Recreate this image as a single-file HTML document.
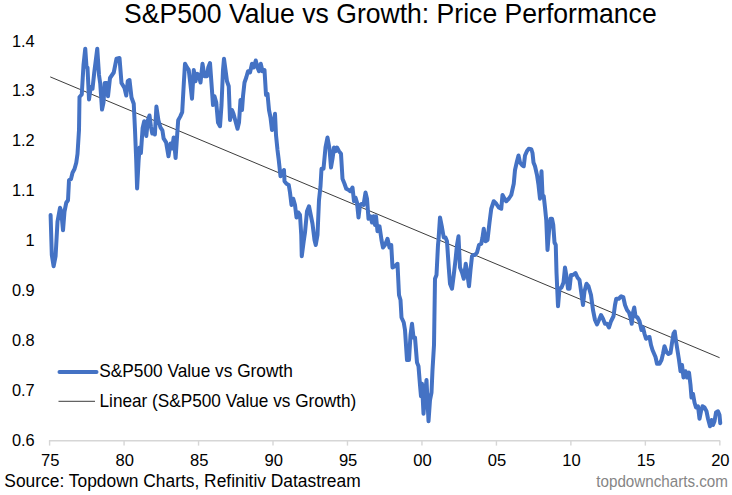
<!DOCTYPE html>
<html><head><meta charset="utf-8">
<style>
html,body{margin:0;padding:0;background:#fff;}
body{width:732px;height:495px;overflow:hidden;position:relative;font-family:"Liberation Sans",sans-serif;}
svg{position:absolute;left:0;top:0;}
text{font-family:"Liberation Sans",sans-serif;fill:#000;}
</style></head><body>
<svg width="732" height="495" viewBox="0 0 732 495">
<rect width="732" height="495" fill="#fff"/>
<g stroke="#d6d6d6" stroke-width="1.4" fill="none">
<line x1="48.9" y1="440.7" x2="720.2" y2="440.7"/>
<line x1="49.60" y1="440.7" x2="49.60" y2="445.6"/><line x1="124.07" y1="440.7" x2="124.07" y2="445.6"/><line x1="198.54" y1="440.7" x2="198.54" y2="445.6"/><line x1="273.01" y1="440.7" x2="273.01" y2="445.6"/><line x1="347.48" y1="440.7" x2="347.48" y2="445.6"/><line x1="421.95" y1="440.7" x2="421.95" y2="445.6"/><line x1="496.42" y1="440.7" x2="496.42" y2="445.6"/><line x1="570.89" y1="440.7" x2="570.89" y2="445.6"/><line x1="645.36" y1="440.7" x2="645.36" y2="445.6"/><line x1="719.83" y1="440.7" x2="719.83" y2="445.6"/>
</g>
<line x1="50.25" y1="76.9" x2="719.6" y2="357.7" stroke="#262626" stroke-width="0.9"/>
<path d="M50.6,215 L51.8,255 L53.6,266.3 L55.6,256 L57.5,221.5 L60,207.75 L61.25,211.5 L63,230.25 L64.5,211.5 L66.25,202.75 L68,200.25 L69,180.25 L71,179 L72.5,172.75 L74.5,169 L76.25,162.75 L77.5,154 L79,130 L79.5,97 L81.75,94.5 L83.5,65 L85.25,48.75 L86.5,67 L87.5,67.5 L89,99.5 L90.75,87 L92.5,88.75 L94.25,72.5 L97.25,48.75 L99,75 L100.25,83.75 L102,109.5 L103.5,102.5 L104.75,83 L106.75,83 L108,96.25 L110,78 L113.75,72.5 L116.5,58.75 L119.5,58 L121.5,83 L124.5,88 L126.25,95.5 L127.75,81.25 L129.5,80 L131.5,97.5 L133.75,103.75 L135,130 L136.2,160 L137.1,188.5 L138.6,160.6 L139.6,147.5 L140.9,153 L142.6,128.3 L144.2,121.2 L146.3,136 L147.9,120.2 L149.5,115.5 L150.9,126.3 L152.3,133.5 L153.9,130.3 L154.9,134.5 L156.4,106.5 L158.4,120.2 L160.4,127.3 L162.4,130.3 L163.6,138.4 L166.1,142.4 L168.5,156.3 L170.5,143.4 L172.1,148.5 L173.7,137.4 L175.6,158 L177.2,134.3 L178.2,120.2 L180.2,116.6 L182.2,112.1 L184,80 L185,63.75 L187,67.5 L188.75,70 L190.5,85 L192,98.75 L193.75,70 L195.5,81.25 L197,73.75 L198.75,75 L200.5,82.5 L202.5,63.75 L204.5,76.25 L207,76.25 L208.25,67.5 L210,63 L211.5,83.75 L213,105 L214.5,96.25 L216.25,102.5 L218,122.5 L220,126.25 L221.5,105 L223,70 L224,58.75 L225.5,70 L227,81.25 L228.75,86.25 L230,120 L232,110 L233.5,113.75 L235.5,121.25 L237.5,128.75 L239,122.5 L240.5,100 L242,110 L243,96.25 L244.5,82.5 L246.25,77.5 L248,71.25 L250,72.5 L252,63.75 L253.75,67.5 L255.75,60.5 L257.5,67.5 L259,71.25 L260.75,63.75 L262.5,71.25 L264.5,70 L266,95 L267.5,93.75 L269,110 L270.5,117.5 L272,130 L273.25,127.5 L275,113.75 L276,135 L277.5,150 L278.75,160 L280.5,176.25 L282.5,172.5 L284,170 L284.5,181.25 L286.5,183.75 L288.75,185 L290,192.5 L291.5,205 L293.25,198.75 L295,205 L296.5,217.5 L298.25,212.5 L300,215 L301.25,235 L301.75,256.25 L303.75,241 L305,232.5 L307,211.25 L309,206.25 L310.75,215 L312.5,223.75 L314.5,240 L315.75,245 L317.5,235 L319,200 L320.5,186.25 L321.5,168.75 L323.5,168.75 L325.5,147.5 L327.5,137.5 L329.5,148.75 L331,167.5 L332.5,158.75 L334,147.5 L335.5,151.25 L337,147.5 L339,151.25 L341,153.75 L342.5,178.75 L344.5,183.75 L346.25,188.75 L348.75,190 L350.5,191.25 L352.5,187.5 L354,201.25 L355.5,197.5 L357,202.5 L358.5,217.5 L360,205 L362,203.75 L363.5,205 L365.5,192.5 L367,198.75 L368.5,218.75 L370.5,216.25 L372,222.5 L373.5,216.25 L375,225 L376,216.25 L377.5,231.25 L379.5,226.25 L381.5,240 L383,247.5 L385,245 L387.5,238.75 L389.5,247.5 L391.25,245 L392.5,267.5 L395,266.25 L397.5,263.75 L399,295 L400.5,300 L401.5,317.5 L403.75,322.5 L405,330 L407,360 L409,360 L410.5,335 L412,323.75 L413.5,337.5 L415,337.5 L417,362.5 L418.5,366.25 L420,385 L421,396.25 L422,383.75 L423.5,413.75 L425,395 L426.5,380 L428.5,421.25 L430,400 L431.5,392.5 L432.5,370 L434,345 L435,278.75 L436.5,275 L438,245 L438.5,240 L440,217.5 L442,227.5 L443.75,237.5 L445.5,237.5 L447,241.25 L448.75,267.5 L450,283.75 L452,288.75 L453.75,275 L455.5,260 L457,245 L458.5,236.25 L460,267.5 L462,272.5 L463.75,278.75 L465.75,263.75 L467.5,275 L469,286.25 L470.5,270 L472,256.25 L473,255 L475,255 L477,252.5 L479,245 L481.25,243.75 L482.5,237.5 L483.75,228.75 L485.5,241.25 L487.5,240 L489.5,222.5 L491.25,208.75 L493.75,201.25 L496.25,203.75 L498.75,207.5 L501.25,208.75 L502.5,195 L504.5,198.75 L506.25,201.25 L508.75,198.75 L511.25,195 L513.75,183.75 L515,170 L517,161.25 L518.5,155.5 L520,162.5 L522,165 L523.75,166.25 L525,155.5 L527,151 L528.75,148.8 L531.25,149.2 L532.5,153 L533.5,162.5 L535,166.25 L537,175 L538.5,185 L540,198.75 L541.5,171.25 L542.5,195 L543.75,196.25 L545,207.5 L546.25,220 L547.5,250 L549,231.25 L550.5,218.75 L552,218.75 L553.25,225 L554.5,242.5 L555.75,245 L556.5,272.5 L558,306.25 L559.5,288.75 L561.5,287.5 L563.5,282.5 L565,267.5 L566.5,276.25 L568,288.75 L569.5,288.75 L571,275 L573,275 L575.5,273 L577.5,277.5 L579.5,280 L581.25,292.5 L583,305 L584.5,291.25 L586.5,283.75 L588.5,286.25 L591,295 L593,310 L595,320 L597,324.5 L599,320 L601,315 L603,318.75 L605,323.75 L607,323.75 L609,327.5 L611,321.25 L613.5,316.25 L615,305 L616.25,298.75 L618.75,298.75 L621.25,296.25 L623.25,297 L625,305 L627,310 L629,312.5 L630.5,317.5 L631.75,323.75 L633,312.5 L634.25,307.5 L635.5,316.25 L637.5,317.5 L639.5,321.25 L641.5,330 L643,327.5 L644.5,333.75 L646,338.75 L648,337.5 L649.5,337 L651,345 L652.5,350 L654,353.5 L655.5,357 L657,363.75 L659.5,363.75 L661.5,360 L663,353.75 L664.5,346.25 L666.5,352 L668.5,354 L670.5,353 L672,343 L673.5,333.5 L674.75,331.5 L676,341 L677.5,350.5 L679,360 L680.5,371.25 L682,365 L683.5,377.5 L685.5,371.25 L687,377.5 L689,372.5 L690.5,385 L691.5,397.5 L693,393.75 L694.5,402.5 L696,407.5 L698,406.25 L699.5,418.75 L701,411.25 L702.5,406.25 L704.5,407.5 L706.5,411.25 L708,418.75 L710,426.25 L711.5,420 L713,425 L714.5,421.25 L716,412.5 L718,411.25 L719.5,415 L720.25,423.2" fill="none" stroke="#4472c4" stroke-width="4" stroke-linejoin="round" stroke-linecap="round"/>
<line x1="59.5" y1="372" x2="96.5" y2="372" stroke="#4472c4" stroke-width="4" stroke-linecap="round"/>
<line x1="58.5" y1="401.3" x2="95" y2="401.3" stroke="#262626" stroke-width="0.9"/>
<text transform="translate(99.3,377.2) scale(1,1.04)" font-size="17.27">S&amp;P500 Value vs Growth</text>
<text transform="translate(99.5,407.4) scale(1,1.04)" font-size="17.22">Linear (S&amp;P500 Value vs Growth)</text>
<text transform="translate(124,23.1) scale(1,1.055)" font-size="26.58">S&amp;P500 Value vs Growth: Price Performance</text>
<text transform="translate(34.7,46.5) scale(1,1.04)" font-size="16.4" text-anchor="end">1.4</text><text transform="translate(34.7,96.4) scale(1,1.04)" font-size="16.4" text-anchor="end">1.3</text><text transform="translate(34.7,146.3) scale(1,1.04)" font-size="16.4" text-anchor="end">1.2</text><text transform="translate(34.7,196.2) scale(1,1.04)" font-size="16.4" text-anchor="end">1.1</text><text transform="translate(34.7,246.1) scale(1,1.04)" font-size="16.4" text-anchor="end">1</text><text transform="translate(34.7,296.0) scale(1,1.04)" font-size="16.4" text-anchor="end">0.9</text><text transform="translate(34.7,345.9) scale(1,1.04)" font-size="16.4" text-anchor="end">0.8</text><text transform="translate(34.7,395.8) scale(1,1.04)" font-size="16.4" text-anchor="end">0.7</text><text transform="translate(34.7,445.7) scale(1,1.04)" font-size="16.4" text-anchor="end">0.6</text>
<text transform="translate(50.3,466.2) scale(1,1.04)" font-size="16.6" text-anchor="middle">75</text><text transform="translate(124.75,466.2) scale(1,1.04)" font-size="16.6" text-anchor="middle">80</text><text transform="translate(199.2,466.2) scale(1,1.04)" font-size="16.6" text-anchor="middle">85</text><text transform="translate(273.65000000000003,466.2) scale(1,1.04)" font-size="16.6" text-anchor="middle">90</text><text transform="translate(348.1,466.2) scale(1,1.04)" font-size="16.6" text-anchor="middle">95</text><text transform="translate(422.55,466.2) scale(1,1.04)" font-size="16.6" text-anchor="middle">00</text><text transform="translate(497.00000000000006,466.2) scale(1,1.04)" font-size="16.6" text-anchor="middle">05</text><text transform="translate(571.4499999999999,466.2) scale(1,1.04)" font-size="16.6" text-anchor="middle">10</text><text transform="translate(645.9,466.2) scale(1,1.04)" font-size="16.6" text-anchor="middle">15</text><text transform="translate(720.35,466.2) scale(1,1.04)" font-size="16.6" text-anchor="middle">20</text>
<text transform="translate(4.3,487.2) scale(1,1.03)" font-size="17.4">Source: Topdown Charts, Refinitiv Datastream</text>
<text transform="translate(727.9,487) scale(1,1.03)" font-size="15.2" text-anchor="end" style="fill:#858585">topdowncharts.com</text>
</svg>
</body></html>
